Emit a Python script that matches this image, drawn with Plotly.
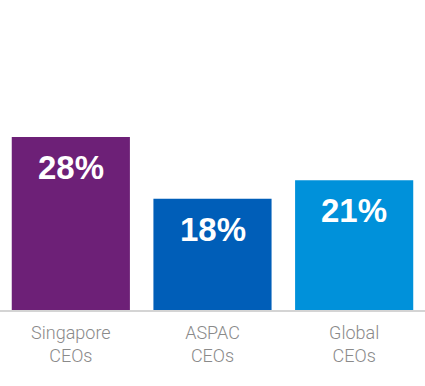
import plotly.graph_objects as go

categories = ["Singapore<br>CEOs", "ASPAC<br>CEOs", "Global<br>CEOs"]
values = [28, 18, 21]
labels = ["28%", "18%", "21%"]
colors = ["#6D2077", "#005EB8", "#0091DA"]

fig = go.Figure()
fig.add_trace(go.Bar(
    x=categories, y=values,
    marker=dict(color=colors, line=dict(width=0)),
    width=0.834,
    hoverinfo="skip",
))

for c, v, t in zip(categories, values, labels):
    fig.add_annotation(
        x=c, y=v, text="<b>" + t + "</b>", showarrow=False,
        yanchor="top", yshift=-10,
        font=dict(family="Liberation Sans, Arial, sans-serif", size=33, color="white"),
    )

fig.update_layout(
    width=425, height=386,
    margin=dict(l=0, r=0, t=1, b=76),
    paper_bgcolor="white", plot_bgcolor="white",
    showlegend=False,
    xaxis=dict(
        showline=True, linecolor="#d4d4d4", linewidth=2,
        showgrid=False, zeroline=False, ticks="",
        tickfont=dict(family="Roboto, Liberation Sans, sans-serif", size=18, color="#8a8a8a", weight=300),
        ticklabelstandoff=5,
        range=[-0.5, 2.5],
    ),
    yaxis=dict(visible=False, range=[0, 50], showgrid=False, zeroline=False),
)

fig.write_html("out.html", config={"displayModeBar": False},
               post_script="document.body.style.margin='0';document.body.style.padding='0';")
